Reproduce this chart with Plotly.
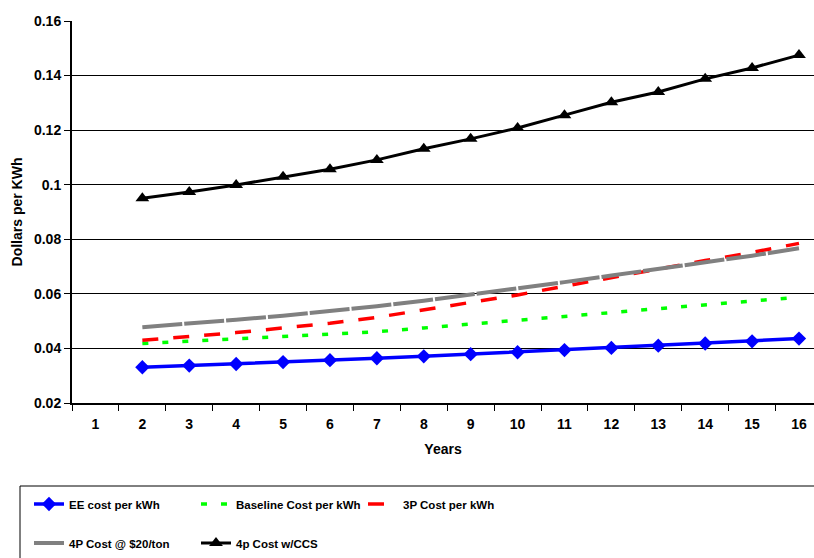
import plotly.graph_objects as go

years = [2, 3, 4, 5, 6, 7, 8, 9, 10, 11, 12, 13, 14, 15, 16]
ee_cost = [0.0331, 0.0337, 0.0343, 0.0350, 0.0357, 0.0364, 0.0371, 0.0379, 0.0386,
           0.0394, 0.0402, 0.0410, 0.0418, 0.0426, 0.0436]
baseline_cost = [0.0418, 0.0426, 0.0435, 0.0443, 0.0452, 0.0461, 0.0475, 0.0489, 0.0503,
                 0.0518, 0.0532, 0.0546, 0.0560, 0.0573, 0.0588]
p3_cost = [0.0430, 0.0443, 0.0458, 0.0475, 0.0492, 0.0514, 0.0542, 0.0567, 0.0596,
           0.0628, 0.0660, 0.0692, 0.0722, 0.0752, 0.0785]
p4_cost = [0.0478, 0.0490, 0.0505, 0.0520, 0.0537, 0.0555, 0.0575, 0.0597, 0.0620,
           0.0643, 0.0667, 0.0691, 0.0715, 0.0740, 0.0767]
ccs_cost = [0.0950, 0.0973, 0.0999, 0.1029, 0.1057, 0.1091, 0.1132, 0.1168, 0.1208,
            0.1255, 0.1302, 0.1340, 0.1388, 0.1428, 0.1475]

x_tick_vals = list(range(1, 17))
x_tick_labels = [str(v) for v in x_tick_vals]
y_tick_vals = [0.02, 0.04, 0.06, 0.08, 0.10, 0.12, 0.14, 0.16]
y_tick_labels = ["0.02", "0.04", "0.06", "0.08", "0.1", "0.12", "0.14", "0.16"]

FONT = "Liberation Sans, Arial, sans-serif"

W, H = 814, 558
ML, MT, MB = 72, 21, 155
plot_w = W - ML
plot_h = H - MT - MB


def px_to_paper_x(px):
    return (px - ML) / plot_w


def px_to_paper_y(py):
    return (H - MB - py) / plot_h


fig = go.Figure()
fig.add_trace(go.Scatter(x=years, y=ee_cost, name="EE cost per kWh", mode="lines+markers",
                         line=dict(color="#0000FF", width=3.5),
                         marker=dict(symbol="diamond", size=11, color="#0000FF"),
                         legend="legend"))
fig.add_trace(go.Scatter(x=years, y=baseline_cost, name="Baseline Cost per kWh", mode="lines",
                         line=dict(color="#00FF00", width=3.5, dash="6px,14px"),
                         legend="legend"))
fig.add_trace(go.Scatter(x=years, y=p3_cost, name="3P Cost per kWh", mode="lines",
                         line=dict(color="#FF0000", width=3.5, dash="16px,15px"),
                         legend="legend"))
fig.add_trace(go.Scatter(x=years, y=p4_cost, name="4P Cost @ $20/ton", mode="lines",
                         line=dict(color="#808080", width=4, dash="40px,2px"),
                         legend="legend2"))
fig.add_trace(go.Scatter(x=years, y=ccs_cost, name="4p Cost w/CCS", mode="lines+markers",
                         line=dict(color="#000000", width=3),
                         marker=dict(symbol="triangle-up", size=12, color="#000000"),
                         legend="legend2"))

legend_common = dict(
    orientation="h", xref="container", yref="container",
    x=29 / W, xanchor="left", yanchor="middle",
    bgcolor="rgba(0,0,0,0)", borderwidth=0,
    font=dict(family=FONT, size=11.5, color="black", weight="bold"),
    entrywidth=122, entrywidthmode="pixels", itemwidth=30,
)

fig.update_layout(
    width=W, height=H,
    margin=dict(l=ML, r=0, t=MT, b=MB),
    paper_bgcolor="white", plot_bgcolor="white",
    font=dict(family=FONT, size=13, color="black"),
    showlegend=True,
    legend=dict(legend_common, y=1 - 504 / H),
    legend2=dict(legend_common, y=1 - 543 / H),
    shapes=[dict(type="rect", xref="paper", yref="paper",
                 x0=px_to_paper_x(20), x1=px_to_paper_x(840),
                 y0=px_to_paper_y(486), y1=px_to_paper_y(580),
                 line=dict(color="black", width=1), fillcolor="white", layer="below")],
)
fig.update_xaxes(
    range=[0.5, 16.32], tickmode="array", tickvals=x_tick_vals, ticktext=x_tick_labels,
    ticks="", ticklabelstandoff=7,
    showline=True, linecolor="black", linewidth=1.5, showgrid=False, zeroline=False,
    tickfont=dict(family=FONT, size=14, weight="bold"),
    minor=dict(ticks="outside", tick0=0.5, dtick=1, ticklen=6, tickcolor="black", showgrid=False),
    title=dict(text="<b>Years</b>", font=dict(family=FONT, size=14), standoff=14),
)
fig.update_yaxes(
    range=[0.02, 0.16], tickmode="array", tickvals=y_tick_vals, ticktext=y_tick_labels,
    ticks="outside", ticklen=6, tickcolor="black",
    showline=True, linecolor="black", linewidth=2,
    showgrid=True, gridcolor="black", gridwidth=1, zeroline=False,
    tickfont=dict(family=FONT, size=14, weight="bold"),
    title=dict(text="<b>Dollars per KWh</b>", font=dict(family=FONT, size=14), standoff=8),
)

fig.write_html("out.html")
